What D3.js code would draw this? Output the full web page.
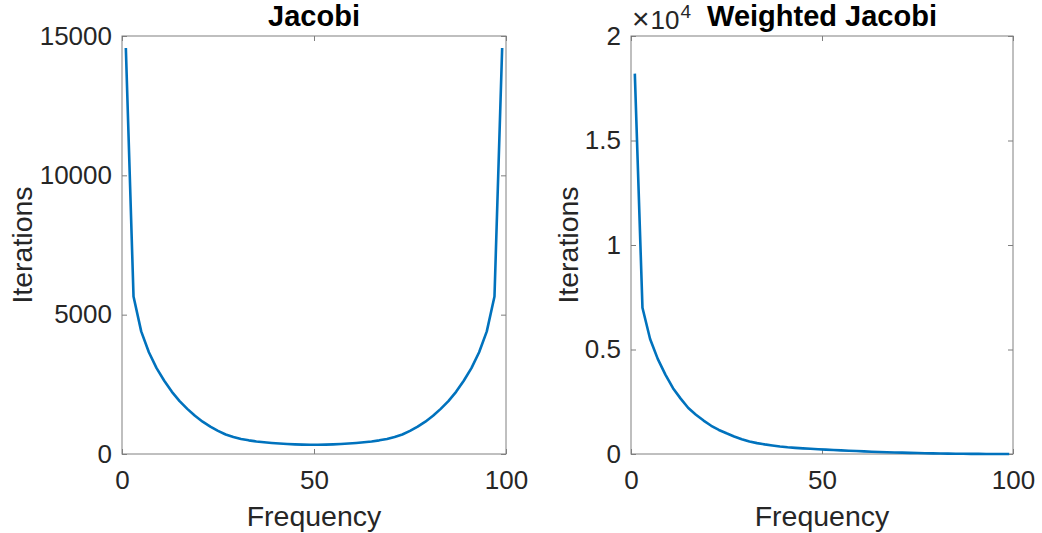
<!DOCTYPE html>
<html>
<head>
<meta charset="utf-8">
<script src="https://cdn.jsdelivr.net/npm/d3@7"></script>
<style>
  body { margin: 0; background: #fff; }
  svg { font-family: "Liberation Sans", Arial, sans-serif; display: block; }
</style>
</head>
<body>
<svg id="chart" width="1042" height="533"></svg>
<script>
// Frequencies sampled (odd modes 1..99)
const freq = [1, 3, 5, 7, 9, 11, 13, 15, 17, 19, 21, 23, 25, 27, 29, 31, 33, 35, 37, 39,
  41, 43, 45, 47, 49, 51, 53, 55, 57, 59, 61, 63, 65, 67, 69, 71, 73, 75, 77, 79,
  81, 83, 85, 87, 89, 91, 93, 95, 97, 99];

// Iterations
const jacobiIters = [14570, 5650, 4400, 3650, 3080, 2630, 2230, 1900, 1620, 1370,
  1160, 980, 830, 700, 610, 540, 490, 450, 420, 395,
  375, 360, 345, 335, 330, 330, 335, 345, 360, 375,
  395, 420, 450, 490, 540, 610, 700, 830, 980, 1160,
  1370, 1620, 1900, 2230, 2630, 3080, 3650, 4400, 5650, 14570];

const weightedIters = [18200, 7000, 5500, 4550, 3800, 3150, 2650, 2200, 1880, 1600,
  1350, 1150, 990, 840, 710, 600, 520, 460, 410, 360,
  320, 295, 270, 250, 230, 210, 190, 172, 155, 140,
  125, 110, 97, 85, 74, 64, 55, 46, 38, 31,
  25, 20, 15, 11, 8, 5, 3, 2, 1, 0];

const xTicks = [0, 50, 100];
const jacobiYTicks = [0, 5000, 10000, 15000];
const weightedYTicks = [0, 5000, 10000, 15000, 20000];

const LINE_COLOR = '#0072BD';
const TEXT_COLOR = '#262626';
const TOP = 36, BOTTOM = 454;
const TICK = 5;

const svg = d3.select('#chart');

const panels = [
  { title: 'Jacobi', values: jacobiIters, yMax: 15000, yTicks: jacobiYTicks,
    fmt: d3.format('d'), left: 122, right: 506, ylabelX: 32, exp: false },
  { title: 'Weighted Jacobi', values: weightedIters, yMax: 20000, yTicks: weightedYTicks,
    fmt: v => d3.format('~g')(v / 1e4), left: 631, right: 1013, ylabelX: 578, exp: true }
];

const drawPanel = (p) => {
  const x = d3.scaleLinear().domain([0, 100]).range([p.left, p.right]);
  const y = d3.scaleLinear().domain([0, p.yMax]).range([BOTTOM, TOP]);
  const g = svg.append('g');

  const styleAxis = (sel) => {
    sel.select('.domain').remove();
    sel.selectAll('.tick line').attr('stroke', '#262626').attr('stroke-width', 0.6);
    sel.selectAll('.tick text').attr('fill', TEXT_COLOR).attr('font-size', 26)
      .attr('font-family', '"Liberation Sans", Arial, sans-serif');
  };

  // bottom / left with labels, ticks pointing inward
  g.append('g').attr('transform', `translate(0,${BOTTOM})`)
    .call(d3.axisBottom(x).tickValues(xTicks).tickSizeInner(-TICK).tickSizeOuter(0).tickPadding(17))
    .call(styleAxis);
  g.append('g').attr('transform', `translate(${p.left},0)`)
    .call(d3.axisLeft(y).tickValues(p.yTicks).tickFormat(p.fmt).tickSizeInner(-TICK).tickSizeOuter(0).tickPadding(10))
    .call(styleAxis);
  // top / right mirror ticks
  g.append('g').attr('transform', `translate(0,${TOP})`)
    .call(d3.axisTop(x).tickValues(xTicks).tickFormat('').tickSizeInner(-TICK).tickSizeOuter(0))
    .call(styleAxis);
  g.append('g').attr('transform', `translate(${p.right},0)`)
    .call(d3.axisRight(y).tickValues(p.yTicks).tickFormat('').tickSizeInner(-TICK).tickSizeOuter(0))
    .call(styleAxis);

  // axes box
  g.append('rect')
    .attr('x', p.left).attr('y', TOP)
    .attr('width', p.right - p.left).attr('height', BOTTOM - TOP)
    .attr('fill', 'none').attr('stroke', '#808080').attr('stroke-width', 1);

  // data line
  const pts = freq.map((f, i) => [f, p.values[i]]);
  g.append('path')
    .datum(pts)
    .attr('fill', 'none')
    .attr('stroke', LINE_COLOR)
    .attr('stroke-width', 2.6)
    .attr('stroke-linejoin', 'round')
    .attr('d', d3.line().x(d => x(d[0])).y(d => y(d[1])));

  // title
  g.append('text')
    .attr('x', (p.left + p.right) / 2).attr('y', 26)
    .attr('text-anchor', 'middle')
    .attr('font-size', 29).attr('font-weight', 'bold').attr('fill', '#000')
    .text(p.title);

  // axis labels
  g.append('text')
    .attr('x', (p.left + p.right) / 2).attr('y', 526)
    .attr('text-anchor', 'middle')
    .attr('font-size', 28.5).attr('fill', TEXT_COLOR)
    .text('Frequency');
  g.append('text')
    .attr('transform', `translate(${p.ylabelX},${(TOP + BOTTOM) / 2}) rotate(-90)`)
    .attr('text-anchor', 'middle')
    .attr('font-size', 28.5).attr('fill', TEXT_COLOR)
    .text('Iterations');

  // exponent label
  if (p.exp) {
    const t = g.append('text')
      .attr('x', p.left + 1).attr('y', 29)
      .attr('font-size', 26).attr('fill', TEXT_COLOR);
    t.append('tspan').attr('font-size', 30).text('\u00d7');
    t.append('tspan').attr('dx', 1).text('10');
    t.append('tspan').attr('dx', 1).attr('dy', -11).attr('font-size', 19).text('4');
  }
};

panels.forEach(drawPanel);
</script>
</body>
</html>
